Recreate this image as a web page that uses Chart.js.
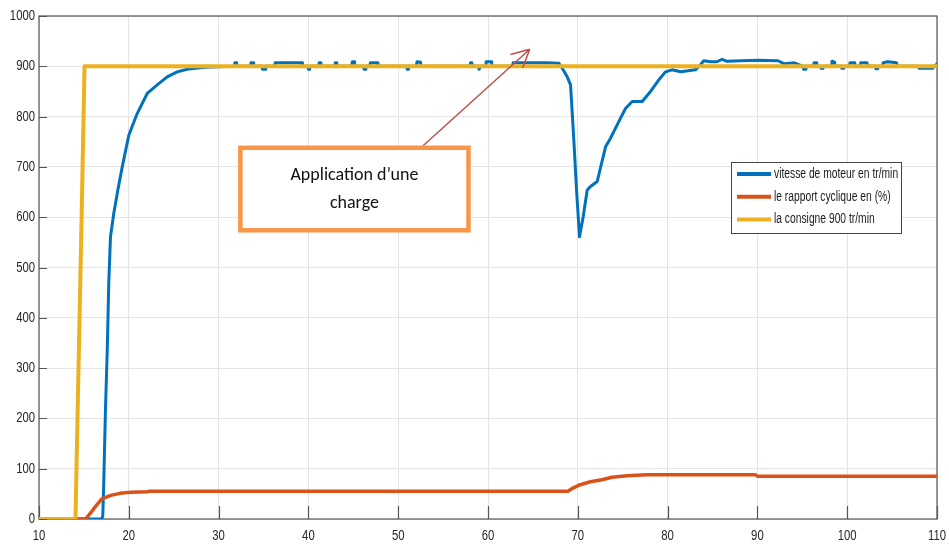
<!DOCTYPE html>
<html>
<head>
<meta charset="utf-8">
<script src="https://cdn.jsdelivr.net/npm/chart.js@4"></script>
<style>
  html, body { margin: 0; padding: 0; background: #ffffff; }
  #wrap { width: 949px; height: 549px; }
</style>
</head>
<body>
<div id="wrap"><canvas id="c" width="949" height="549"></canvas></div>
<script>
// Time axis ticks (s) and speed axis ticks
const xTicks = [10, 20, 30, 40, 50, 60, 70, 80, 90, 100, 110];
const yTicks = [0, 100, 200, 300, 400, 500, 600, 700, 800, 900, 1000];

// Motor speed (tr/min)
const speedTime = [10, 16.95, 17.1, 17.2, 17.4, 17.6, 17.77, 17.96, 18.33, 18.78, 19.27, 20.0, 20.93, 22.05, 23.16, 24.28, 25.39, 26.5, 27.43, 28.5, 30,
  31.75, 31.8, 32.0, 32.05, 33.55, 33.6, 33.9, 33.95, 34.85, 34.9, 35.2, 35.25, 36.25, 36.3, 39.3, 39.35, 39.95, 40.0, 40.1, 40.15, 41.15, 41.2, 41.35, 41.4,
  42.95, 43.0, 43.15, 43.2, 44.8, 44.9, 45.1, 45.15, 46.15, 46.2, 46.35, 46.4, 46.85, 46.9, 47.7, 47.75, 50.95, 51.0, 51.1, 51.15, 52.0, 52.1, 52.45, 52.5,
  58.0, 58.05, 58.2, 58.25, 58.95, 59.0, 59.1, 59.15, 59.75, 59.8, 60.4, 60.45, 62.75, 62.8, 66.6, 67.9,
  68.26, 68.82, 69.19, 69.56, 69.86, 70.19, 70.6, 71.05, 71.41, 72.16, 73.09, 73.64, 74.76, 75.31, 76.06, 77.17, 78.1, 79.02, 79.77, 80.51, 81.44, 83.1,
  83.66, 84.03, 84.77, 85.5, 86.08, 86.6, 88.16, 90.05, 92.3, 93.0, 94.1, 95.1, 95.15, 95.4, 95.45, 96.25, 96.3, 96.6, 96.65, 97.05, 97.1, 97.3, 97.35, 98.25, 98.3, 98.6, 98.65,
  99.35, 99.4, 99.6, 99.65, 100.25, 100.3, 100.8, 100.85, 101.45, 101.5, 102.2, 102.25, 103.15, 103.2, 103.4, 103.45, 103.95, 104.0, 104.5, 105.5, 105.55, 107.95, 108.0, 109.5, 109.55, 109.95, 110];
const speedValues = [0, 0, 5, 64, 217, 336, 469, 561, 608, 654, 700, 763, 806, 846, 863, 879, 889, 894, 896, 898, 899,
  900, 907, 907, 900, 900, 907, 907, 900, 900, 894, 894, 900, 900, 907, 907, 900, 900, 894, 894, 900, 900, 907, 907, 900,
  900, 907, 907, 900, 900, 909, 909, 900, 900, 894, 894, 900, 900, 907, 907, 900, 900, 894, 894, 900, 900, 909, 908, 900,
  900, 907, 907, 900, 900, 894, 894, 900, 900, 909, 909, 900, 900, 907, 907, 906,
  896, 879, 863, 753, 654, 561, 601, 654, 661, 671, 740, 757, 797, 816, 830, 830, 850, 873, 889, 893, 889, 893,
  903, 911, 909, 909, 914, 910, 911, 912, 911, 905, 907, 900, 894, 894, 900, 900, 907, 907, 900, 900, 896, 896, 900, 900, 910, 908, 900,
  900, 896, 896, 900, 900, 907, 907, 900, 900, 907, 907, 900, 900, 895, 895, 900, 900, 907, 909, 907, 900, 900, 896, 896, 900, 900, 907];

// Duty cycle (%)
const dutyTime = [10, 15.2, 15.7, 16.3, 17.0, 18.0, 19.0, 20.2, 22.1, 22.2, 68.9, 69.5, 70.1, 71.4, 72.7, 73.8, 75.5, 77.7, 89.8, 90.0, 110];
const dutyValues = [0, 0, 11, 25, 40, 47, 51, 53, 54, 55, 55, 62, 67, 74, 78, 83, 86, 88, 88, 85, 85];

// Setpoint 900 tr/min
const setTime = [10, 14.06, 14.8, 15.07, 110];
const setValues = [0, 0, 650, 900, 900];

const seriesNames = ['vitesse de moteur en tr/min', 'le rapport cyclique en (%)', 'la consigne 900 tr/min'];
const noteLines = ['Application d\u2019une', 'charge'];

const toPoints = (t, v) => t.map((x, i) => ({ x: x, y: v[i] }));

const SANS = '"Liberation Sans", Arial, sans-serif';

// draw text squeezed horizontally (narrow face)
function narrowText(ctx, text, x, y, squeeze, align) {
  ctx.save();
  ctx.translate(x, y);
  ctx.scale(squeeze, 1);
  ctx.textAlign = align;
  ctx.fillText(text, 0, 0);
  ctx.restore();
}

// Frame with inward tick marks and tick labels, drawn under the curves
const framePlugin = {
  id: 'frame',
  beforeDatasetsDraw(chart) {
    const { ctx, chartArea: a, scales } = chart;
    ctx.save();
    ctx.strokeStyle = '#555555';
    ctx.lineWidth = 1.2;
    ctx.strokeRect(a.left, a.top, a.right - a.left, a.bottom - a.top);
    ctx.beginPath();
    xTicks.forEach(v => {
      const px = Math.round(scales.x.getPixelForValue(v)) + 0.5;
      ctx.moveTo(px, a.bottom); ctx.lineTo(px, a.bottom - 13);
    });
    yTicks.forEach(v => {
      const py = Math.round(scales.y.getPixelForValue(v)) + 0.5;
      ctx.moveTo(a.left, py); ctx.lineTo(a.left + 8, py);
    });
    ctx.stroke();

    ctx.fillStyle = '#262626';
    ctx.font = '14.5px ' + SANS;
    ctx.textBaseline = 'middle';
    xTicks.forEach(v => {
      narrowText(ctx, String(v), scales.x.getPixelForValue(v), a.bottom + 17, 0.78, 'center');
    });
    yTicks.forEach(v => {
      narrowText(ctx, String(v), a.left - 4, scales.y.getPixelForValue(v), 0.78, 'right');
    });
    ctx.restore();
  }
};

// Legend box and the load annotation with its arrow
const overlayPlugin = {
  id: 'overlay',
  afterDraw(chart, args, opts) {
    const { ctx, scales } = chart;
    const X = v => scales.x.getPixelForValue(v);
    const Y = v => scales.y.getPixelForValue(v);
    ctx.save();

    // legend
    const lg = opts.legend;
    const lx = Math.round(X(lg.x)), ly = Math.round(Y(lg.y));
    ctx.fillStyle = '#ffffff';
    ctx.fillRect(lx, ly, lg.w, lg.h);
    ctx.strokeStyle = '#444444';
    ctx.lineWidth = 1;
    ctx.strokeRect(lx + 0.5, ly + 0.5, lg.w, lg.h);
    ctx.font = '14px ' + SANS;
    ctx.textBaseline = 'middle';
    chart.data.datasets.forEach((ds, i) => {
      const ry = ly + 12 + i * 22.7;
      ctx.strokeStyle = ds.borderColor;
      ctx.lineWidth = 4;
      ctx.beginPath();
      ctx.moveTo(lx + 6, ry); ctx.lineTo(lx + 40, ry);
      ctx.stroke();
      ctx.fillStyle = '#1a1a1a';
      narrowText(ctx, ds.label, lx + 43, ry, 0.735, 'left');
    });

    // arrow from the note to the curve
    const ar = opts.arrow;
    const x0 = X(ar.from[0]), y0 = Y(ar.from[1]);
    const x1 = X(ar.to[0]), y1 = Y(ar.to[1]);
    ctx.strokeStyle = '#c0504d';
    ctx.lineWidth = 1.5;
    ctx.beginPath();
    ctx.moveTo(x0, y0); ctx.lineTo(x1, y1);
    const ang = Math.atan2(y0 - y1, x0 - x1);
    [-0.47, 0.47].forEach(d => {
      ctx.moveTo(x1, y1);
      ctx.lineTo(x1 + 20 * Math.cos(ang + d), y1 + 20 * Math.sin(ang + d));
    });
    ctx.stroke();

    // note box
    const nb = opts.note;
    const bx0 = X(nb.x0), bx1 = X(nb.x1), by0 = Y(nb.y0), by1 = Y(nb.y1);
    ctx.fillStyle = '#ffffff';
    ctx.fillRect(bx0, by0, bx1 - bx0, by1 - by0);
    ctx.strokeStyle = '#f79646';
    ctx.lineWidth = 4.5;
    ctx.strokeRect(bx0 + 2, by0 + 2, bx1 - bx0 - 4, by1 - by0 - 4);
    ctx.fillStyle = '#111111';
    ctx.font = '18px Carlito, Lato, "Open Sans", sans-serif';
    ctx.textAlign = 'center';
    ctx.textBaseline = 'middle';
    const cx = (bx0 + bx1) / 2, cy = (by0 + by1) / 2;
    noteLines.forEach((t, i) => {
      ctx.fillText(t, cx, cy - 14 + i * 28);
    });
    ctx.restore();
  }
};

new Chart(document.getElementById('c'), {
  type: 'line',
  data: {
    datasets: [
      { label: seriesNames[0], data: toPoints(speedTime, speedValues), borderColor: '#0072bd', borderWidth: 3, order: 2 },
      { label: seriesNames[1], data: toPoints(dutyTime, dutyValues), borderColor: '#d95319', borderWidth: 3.5, order: 1 },
      { label: seriesNames[2], data: toPoints(setTime, setValues), borderColor: '#edb120', borderWidth: 4, order: 0 }
    ]
  },
  options: {
    responsive: false,
    animation: false,
    devicePixelRatio: 1,
    layout: { padding: { left: 0, top: 16, right: 12, bottom: 0 } },
    elements: {
      point: { radius: 0 },
      line: { tension: 0, fill: false, borderJoinStyle: 'round', borderCapStyle: 'butt' }
    },
    scales: {
      x: {
        type: 'linear', min: 10, max: 110,
        afterBuildTicks: s => { s.ticks = xTicks.map(v => ({ value: v })); },
        afterFit: s => { s.height = 30; },
        grid: { color: '#e4e4e4', lineWidth: 1, drawTicks: false },
        border: { display: false },
        ticks: { display: false }
      },
      y: {
        type: 'linear', min: 0, max: 1000,
        afterBuildTicks: s => { s.ticks = yTicks.map(v => ({ value: v })); },
        afterFit: s => { s.width = 39; },
        grid: { color: '#e4e4e4', lineWidth: 1, drawTicks: false },
        border: { display: false },
        ticks: { display: false }
      }
    },
    plugins: {
      legend: { display: false },
      tooltip: { enabled: false },
      overlay: {
        legend: { x: 87.06, y: 710, w: 170, h: 71 },
        arrow: { from: [52.46, 737], to: [64.65, 934] },
        note: { x0: 32.2, x1: 58.05, y0: 742, y1: 570 }
      }
    }
  },
  plugins: [framePlugin, overlayPlugin]
});
</script>
</body>
</html>
